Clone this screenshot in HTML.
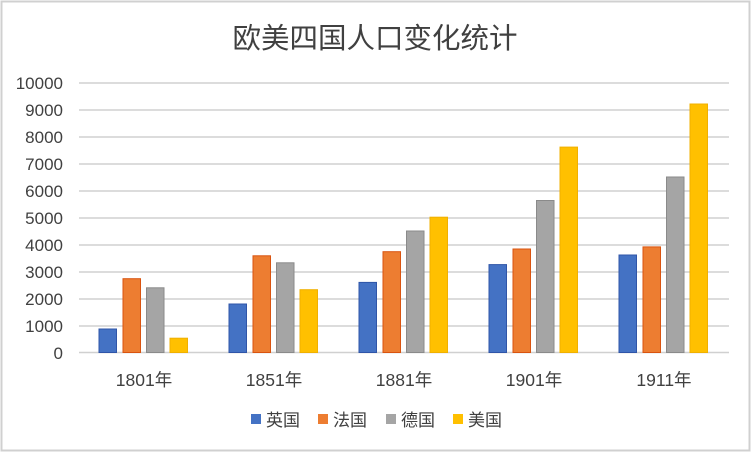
<!DOCTYPE html><html><head><meta charset="utf-8"><style>body{margin:0;background:#fff}</style></head><body>
<svg width="751" height="452" xmlns="http://www.w3.org/2000/svg" font-family="Liberation Sans, Noto Sans CJK SC, sans-serif">
<rect x="1.5" y="1.5" width="748" height="449" fill="#fff" stroke="#d0d0d0" stroke-width="2"/>
<text x="375" y="48" text-anchor="middle" font-size="28.5" fill="#404040" font-family="Noto Sans CJK SC, sans-serif">欧美四国人口变化统计</text>
<g stroke="#d0d0d0" stroke-width="1.5">
<line x1="79" x2="729" y1="83" y2="83"/><line x1="79" x2="729" y1="110" y2="110"/><line x1="79" x2="729" y1="137" y2="137"/><line x1="79" x2="729" y1="164" y2="164"/><line x1="79" x2="729" y1="191" y2="191"/><line x1="79" x2="729" y1="218" y2="218"/><line x1="79" x2="729" y1="245" y2="245"/><line x1="79" x2="729" y1="272" y2="272"/><line x1="79" x2="729" y1="299" y2="299"/><line x1="79" x2="729" y1="326" y2="326"/><line x1="79" x2="729" y1="352.5" y2="352.5"/>
</g>
<g font-size="17" fill="#404040" text-anchor="end">
<text x="63" y="89">10000</text><text x="63" y="116">9000</text><text x="63" y="143">8000</text><text x="63" y="170">7000</text><text x="63" y="197">6000</text><text x="63" y="224">5000</text><text x="63" y="251">4000</text><text x="63" y="278">3000</text><text x="63" y="305">2000</text><text x="63" y="332">1000</text><text x="63" y="359">0</text>
</g>
<g stroke-width="1">
<rect x="99" y="329" width="17.5" height="23.5" fill="#4472c4" stroke="#2f55a8"/>
<rect x="123" y="278.7" width="17.5" height="73.8" fill="#ed7d31" stroke="#d9530f"/>
<rect x="146.5" y="287.8" width="17.5" height="64.7" fill="#a5a5a5" stroke="#8a8a8a"/>
<rect x="170" y="338.2" width="17.5" height="14.3" fill="#ffc000" stroke="#f0b000"/>
<rect x="229" y="304" width="17.5" height="48.5" fill="#4472c4" stroke="#2f55a8"/>
<rect x="253" y="255.8" width="17.5" height="96.7" fill="#ed7d31" stroke="#d9530f"/>
<rect x="276.5" y="262.8" width="17.5" height="89.7" fill="#a5a5a5" stroke="#8a8a8a"/>
<rect x="300" y="289.7" width="17.5" height="62.8" fill="#ffc000" stroke="#f0b000"/>
<rect x="359" y="282.4" width="17.5" height="70.1" fill="#4472c4" stroke="#2f55a8"/>
<rect x="383" y="251.7" width="17.5" height="100.8" fill="#ed7d31" stroke="#d9530f"/>
<rect x="406.5" y="231" width="17.5" height="121.5" fill="#a5a5a5" stroke="#8a8a8a"/>
<rect x="430" y="217.2" width="17.5" height="135.3" fill="#ffc000" stroke="#f0b000"/>
<rect x="489" y="264.6" width="17.5" height="87.9" fill="#4472c4" stroke="#2f55a8"/>
<rect x="513" y="249" width="17.5" height="103.5" fill="#ed7d31" stroke="#d9530f"/>
<rect x="536.5" y="200.5" width="17.5" height="152" fill="#a5a5a5" stroke="#8a8a8a"/>
<rect x="560" y="147.1" width="17.5" height="205.4" fill="#ffc000" stroke="#f0b000"/>
<rect x="619" y="255" width="17.5" height="97.5" fill="#4472c4" stroke="#2f55a8"/>
<rect x="643" y="246.9" width="17.5" height="105.6" fill="#ed7d31" stroke="#d9530f"/>
<rect x="666.5" y="177" width="17.5" height="175.5" fill="#a5a5a5" stroke="#8a8a8a"/>
<rect x="690" y="104" width="17.5" height="248.5" fill="#ffc000" stroke="#f0b000"/>
</g>
<g font-size="17.5" fill="#404040" text-anchor="middle">
<text x="144" y="386">1801年</text><text x="274" y="386">1851年</text><text x="404" y="386">1881年</text><text x="534" y="386">1901年</text><text x="664" y="386">1911年</text>
</g>
<g font-size="17" fill="#404040">
<rect x="251" y="414" width="10" height="10" fill="#4472c4"/><text x="266" y="426">英国</text>
<rect x="318" y="414" width="10" height="10" fill="#ed7d31"/><text x="333" y="426">法国</text>
<rect x="386" y="414" width="10" height="10" fill="#a5a5a5"/><text x="401" y="426">德国</text>
<rect x="453" y="414" width="10" height="10" fill="#ffc000"/><text x="468" y="426">美国</text>
</g>
</svg></body></html>
